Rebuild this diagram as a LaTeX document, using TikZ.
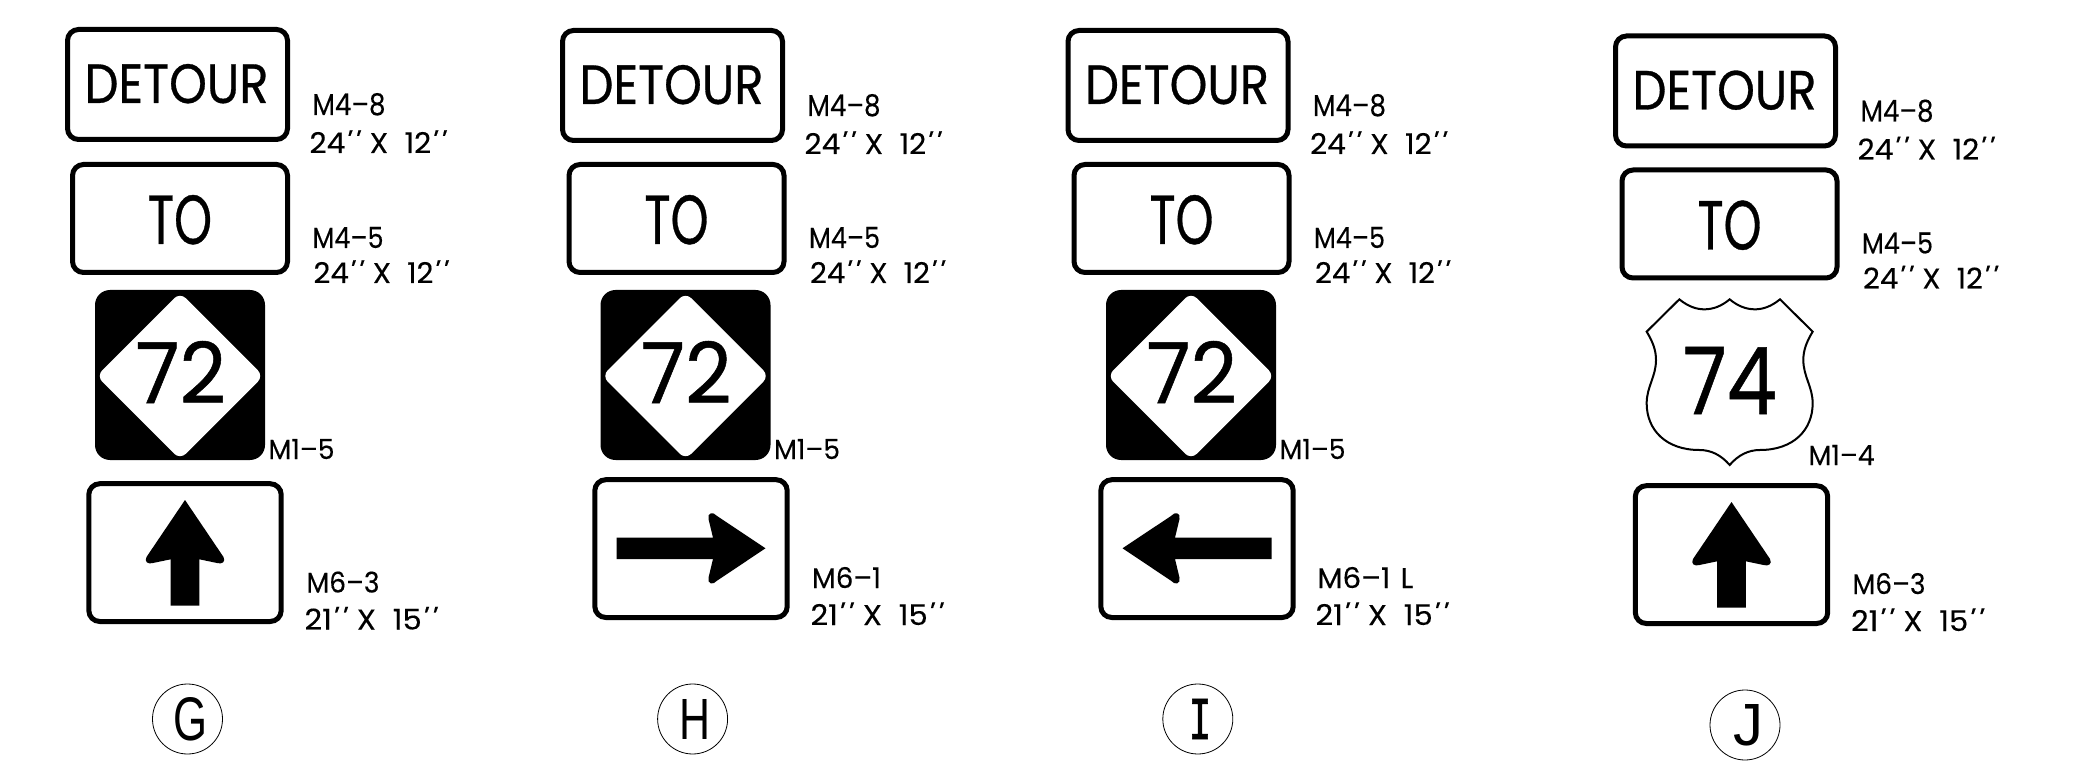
\documentclass[tikz,border=0pt]{standalone}
\usepackage{graphicx}
\usepackage{fontspec}
\newfontfamily\sgn{Poppins}[FakeBold=0.25]
\newfontfamily\sgnb{Poppins}[FakeBold=0.6]
\newfontfamily\ringsans{Liberation Sans}
\newfontfamily\ringmono{Liberation Mono}[FakeBold=1.5]
\newcommand{\prm}{\smash{\addfontfeature{FakeSlant=0.3}\kern-.17em'\kern.13em'\kern.17em}}
\newcommand{\szt}[3]{#1\kern.05em\prm\hspace{.32em}#2\hspace{.55em}#3\kern.05em\prm}
\tikzset{
  txt/.style={inner sep=0pt,outer sep=0pt,text=black,anchor=base west},
  ringtxt/.style={inner sep=0pt,outer sep=0pt,text=black,anchor=center},
  signbox/.style={draw=black,line width=5pt,rounded corners=11pt,fill=white},
  blacksq/.style={fill=black,rounded corners=15pt},
  whitedia/.style={fill=white,rounded corners=8pt},
  solidarrow/.style={fill=black},
  shieldline/.style={draw=black,line width=2pt,fill=white,line join=miter},
  ring/.style={circle,draw=black,line width=.8pt,minimum size=70pt,inner sep=0pt,outer sep=0pt}
}
\newcommand{\lbl}[6]{\node[txt] (#1) at (#2,#3) {\resizebox{#4pt}{#5pt}{\sgn #6}};}
\newcommand{\lblb}[6]{\node[txt] (#1) at (#2,#3) {\resizebox{#4pt}{#5pt}{\sgnb #6}};}
\newcommand{\detoursign}{%
  \draw[signbox] (67.5,29.5) rectangle (287.5,139.5);
  \lblb{det}{84.5}{103}{184}{39}{DETOUR}
  \lbl{lab-a}{312.5}{115}{73}{22}{M4–8}
  \lbl{lab-b}{309.5}{153}{136.5}{21}{\szt{24}{X}{12}}
}
\newcommand{\tosign}{%
  \draw[signbox] (72.5,164.5) rectangle (287.5,272.5);
  \lblb{to}{148}{244}{64}{49}{TO}
  \lbl{lab-c}{312.5}{248}{71}{21}{M4–5}
  \lbl{lab-d}{313.5}{283}{134.5}{21}{\szt{24}{X}{12}}
}
\newcommand{\routesign}{%
  \fill[blacksq] (95,290) rectangle (265,460);
  \fill[whitedia] (180,292.5) -- (263.5,376) -- (180,459.5) -- (96.5,376) -- cycle;
  \lblb{num}{135.5}{403}{90.5}{62}{72}
  \lbl{lab-e}{268.5}{459}{66}{20}{M1–5}
}
\newcommand{\arrowframe}{\draw[signbox] (88.8,483.7) rectangle (281.2,621.5);}
\newcommand{\uparrowshape}{%
  \fill[solidarrow] (185,500) -- (223.5,557) .. controls (226,562) and (222,564.5) .. (217,563) -- (199.3,559.3) -- (199.3,605.7) -- (170.7,605.7) -- (170.7,559.3) -- (153,563) .. controls (148,564.5) and (144,562) .. (146.5,557) -- cycle;
}
\newcommand{\sideshape}{%
  \fill[solidarrow] (110.5,541.7) -- (207,541.7) -- (202.5,523) .. controls (201,517) and (207,515) .. (211,520) -- (259.5,552.3) -- (211,584.7) .. controls (207,589.7) and (201,587.7) .. (202.5,581.7) -- (207,563) -- (110.5,563) -- cycle;
}
\begin{document}
\begin{tikzpicture}[x=1pt,y=-1pt]
\useasboundingbox (0,0) rectangle (2091,783);
% G
\begin{scope}[name prefix=g-]
  \detoursign \tosign \routesign
  \arrowframe \uparrowshape
  \lbl{lab-f}{306.5}{592.5}{73}{21}{M6–3}
  \lbl{lab-g}{304.5}{629.5}{132.5}{21}{\szt{21}{X}{15}}
  \node[ring] (ring) at (187.5,719) {};
  \node[ringtxt] (let) at (190,719.5) {\resizebox{34pt}{43pt}{\ringsans G}};
\end{scope}
% H
\begin{scope}[name prefix=h-]
  \begin{scope}[shift={(495,1)}] \detoursign \end{scope}
  \begin{scope}[shift={(496.5,0)}] \tosign \end{scope}
  \begin{scope}[shift={(505.5,0)}] \routesign \end{scope}
  \begin{scope}[shift={(506,-4)}] \arrowframe \sideshape \end{scope}
  \lbl{lab-f}{812}{588}{69}{21}{M6–1}
  \lbl{lab-g}{810.5}{625}{132.5}{21}{\szt{21}{X}{15}}
  \node[ring] (ring) at (692.6,719) {};
  \node[ringtxt] (let) at (694.5,719) {\resizebox{31pt}{40pt}{\ringsans H}};
\end{scope}
% I
\begin{scope}[name prefix=i-]
  \begin{scope}[shift={(1000.5,1)}] \detoursign \end{scope}
  \begin{scope}[shift={(1001.5,0)}] \tosign \end{scope}
  \begin{scope}[shift={(1011,0)}] \routesign \end{scope}
  \begin{scope}[shift={(1012,-4)}]
    \arrowframe
    \begin{scope}[shift={(370,0)},xscale=-1] \sideshape \end{scope}
  \end{scope}
  \lbl{lab-f}{1317.3}{588}{96}{21}{M6–1\hspace{.35em}L}
  \lbl{lab-g}{1315.5}{625}{132.5}{21}{\szt{21}{X}{15}}
  \node[ring] (ring) at (1197.8,719) {};
  \node[ringtxt] (let) at (1200,719) {\resizebox{23pt}{40pt}{\ringmono I}};
\end{scope}
% J
\begin{scope}[name prefix=j-]
  \begin{scope}[shift={(1548,6.5)}] \detoursign \end{scope}
  \begin{scope}[shift={(1549.5,5.5)}] \tosign \end{scope}
  \begin{scope}[shift={(1580,260)},scale=0.33333]
    \draw[shieldline] (298,118) .. controls (325,140) and (350,148) .. (373,148) .. controls (400,148) and (425,138) .. (449,118) .. controls (473,138) and (498,148) .. (525,148) .. controls (548,148) and (573,140) .. (600,118) -- (698,215) .. controls (680,245) and (670,270) .. (670,300) .. controls (670,350) and (698,380) .. (698,430) .. controls (698,510) and (640,570) .. (540,570) .. controls (505,570) and (475,585) .. (449,615) .. controls (423,585) and (393,570) .. (358,570) .. controls (258,570) and (200,510) .. (200,430) .. controls (200,380) and (228,350) .. (228,300) .. controls (228,270) and (218,245) .. (200,215) -- cycle;
  \end{scope}
  \lblb{num}{1683}{414}{94}{67}{74}
  \lbl{lab-e}{1808.5}{465}{66}{20}{M1–4}
  \begin{scope}[shift={(1546.5,2)}] \arrowframe \uparrowshape \end{scope}
  \lbl{lab-f}{1852.5}{594}{73}{21}{M6–3}
  \lbl{lab-g}{1851}{631}{132.5}{21}{\szt{21}{X}{15}}
  \node[ring] (ring) at (1745,725) {};
  \node[ringtxt] (let) at (1748,725.5) {\resizebox{30pt}{41pt}{\ringsans J}};
\end{scope}
\end{tikzpicture}
\end{document}
